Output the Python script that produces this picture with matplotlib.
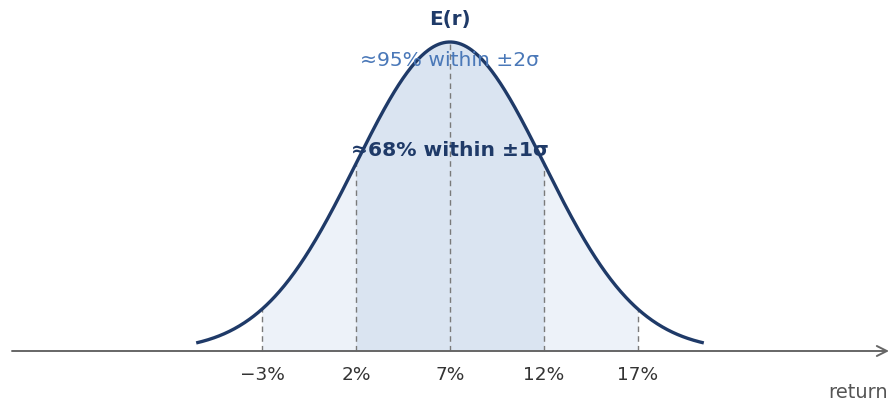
import numpy as np
import matplotlib
matplotlib.use("Agg")
import matplotlib.pyplot as plt

# --- data ---
mean_ret = 7.0          # expected return, %
sigma = 5.0             # standard deviation, %
span_sigmas = 2.7       # curve drawn to +/- this many sigmas
tick_values = [-3, 2, 7, 12, 17]
tick_labels = ["\u22123%", "2%", "7%", "12%", "17%"]
label_mean = "E(r)"
label_2s = "\u224895% within \u00b12\u03c3"
label_1s = "\u224868% within \u00b11\u03c3"
axis_label = "return"

NAVY = "#1f3a68"
BLUE = "#4a78b8"
FILL1 = "#dae4f1"
FILL2 = "#edf2f9"
GRAY = "#7a7a7a"

fig = plt.figure(figsize=(8.9, 4.04), dpi=100)
ax = fig.add_axes([0, 0, 1, 1])
ax.set_xlim(mean_ret - 450 / 18.8, mean_ret + 440 / 18.8)
ax.set_ylim(-53 / 309, 351 / 309)
ax.axis("off")

def pdf(x):
    return np.exp(-0.5 * ((x - mean_ret) / sigma) ** 2)

x = np.linspace(mean_ret - span_sigmas * sigma, mean_ret + span_sigmas * sigma, 600)
x2 = np.linspace(mean_ret - 2 * sigma, mean_ret + 2 * sigma, 400)
x1 = np.linspace(mean_ret - sigma, mean_ret + sigma, 400)
ax.fill_between(x2, 0, pdf(x2), color=FILL2, lw=0, zorder=1)
ax.fill_between(x1, 0, pdf(x1), color=FILL1, lw=0, zorder=2)

for t in tick_values:
    ax.plot([t, t], [0, pdf(t)], ls=(0, (4, 3)), color=GRAY, lw=1.0, zorder=3)

ax.plot(x, pdf(x), color=NAVY, lw=2.4, zorder=5, solid_capstyle="butt")

# axis with arrow
xl = ax.get_xlim()
x_start = xl[0] + 12 / 18.8
x_end = xl[0] + 889 / 18.8
ax.annotate("", xy=(x_end, 0), xytext=(x_start, 0),
            arrowprops=dict(arrowstyle="->", color="#666666", lw=1.4,
                            mutation_scale=18, shrinkA=0, shrinkB=0), zorder=4)

for t, lab in zip(tick_values, tick_labels):
    ax.text(t, -24 / 309, lab, ha="center", va="center", fontsize=13.3, color="#333333")

ax.text(mean_ret, 331 / 309, label_mean, ha="center", va="center", fontsize=14.3,
        fontweight="bold", color=NAVY, zorder=6)
ax.text(mean_ret, 291 / 309, label_2s, ha="center", va="center", fontsize=14.6,
        color=BLUE, zorder=6)
ax.text(mean_ret, 201 / 309, label_1s, ha="center", va="center", fontsize=14.6,
        fontweight="bold", color=NAVY, zorder=6)
ax.text(xl[0] + 888 / 18.8, -42 / 309, axis_label, ha="right", va="center",
        fontsize=14, color="#555555")

fig.savefig("out.png", dpi=100)
